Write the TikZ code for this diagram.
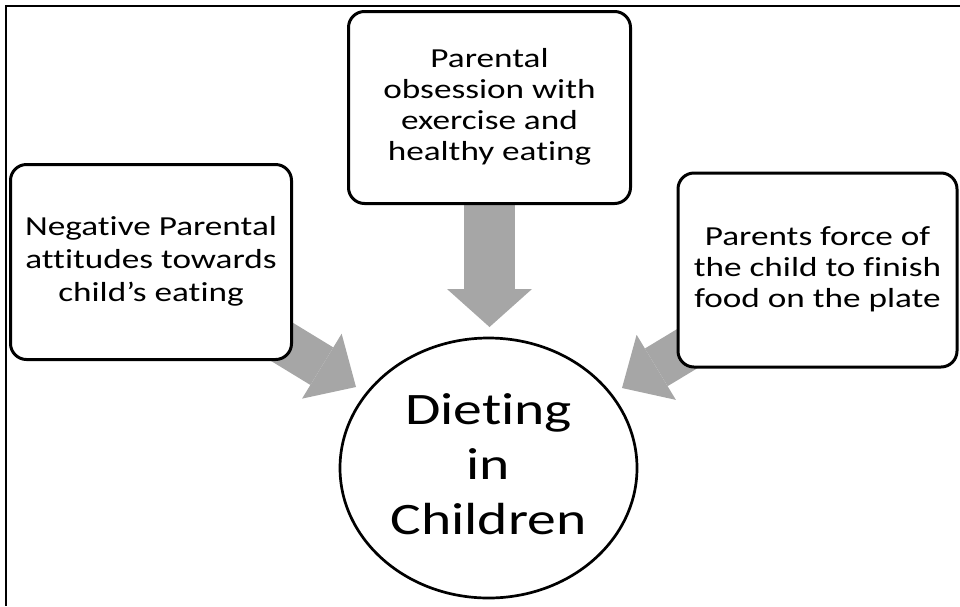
\documentclass[tikz,border=0pt]{standalone}
\usepackage{fontspec}
\setmainfont{Carlito}[Ligatures={NoCommon,NoContextual},Contextuals={NoAlternate}]
\usepackage{graphicx}
\usetikzlibrary{arrows.meta,shapes.geometric}
\pgfdeclarelayer{bg}
\pgfsetlayers{bg,main}
\definecolor{arrowgray}{HTML}{A6A6A6}
\newcommand\stretchlines[3]{\scalebox{1.28}[1]{\fontsize{#1}{#2}\selectfont\begin{tabular}{@{}c@{}}#3\end{tabular}}}
\begin{document}
\begin{tikzpicture}[x=1pt,y=-1pt,
  box/.style={draw=black, line width=3pt, rounded corners=16pt, fill=white, inner sep=0pt},
  oval/.style={ellipse, draw=black, line width=2.7pt, fill=white, inner sep=0pt},
  diagarrow/.style={draw=arrowgray, line width=44pt, -{Triangle[length=40pt, width=76pt, line width=0pt]}},
  downarrow/.style={draw=arrowgray, line width=51pt, -{Triangle[length=38pt, width=85pt, line width=0pt]}}]
\useasboundingbox (0,0) rectangle (960,606);
\draw[line width=1.5pt] (960,6) -- (6,6) -- (6,606);
\node[box, minimum width=281pt, minimum height=195pt] (neg) at (151,262)
  {\raisebox{-5pt}{\stretchlines{27.5}{32.6}{Negative Parental\\attitudes towards\\child’s eating}}};
\node[box, minimum width=282pt, minimum height=192pt] (obs) at (489.5,107.5)
  {\stretchlines{27.5}{31}{Parental\\obsession with\\exercise and\\healthy eating}};
\node[box, minimum width=279pt, minimum height=194pt] (force) at (817.5,270)
  {\stretchlines{27.5}{31}{Parents force of\\the child to finish\\food on the plate}};
\node[oval, minimum width=297pt, minimum height=260pt] (diet) at (488.5,468)
  {\stretchlines{45}{55}{Dieting\\in\\Children}};
\coordinate (tipL) at (356,387);
\coordinate (tipR) at (622,388);
\coordinate (tipD) at (489.5,327);
\begin{pgfonlayer}{bg}
\draw[diagarrow] (neg.center) -- (tipL);
\draw[diagarrow] (force.center) -- (tipR);
\draw[downarrow] (obs.center) -- (tipD);
\end{pgfonlayer}
\end{tikzpicture}
\end{document}
